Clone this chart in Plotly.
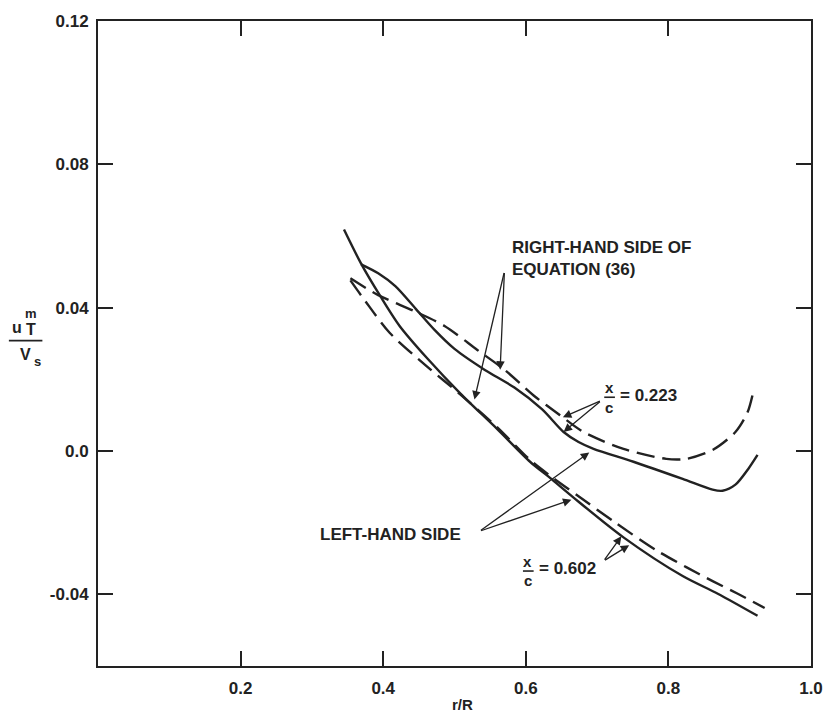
import plotly.graph_objects as go

# r/R stations and u_T^m / V_s values for the two chordwise stations
r_lhs_223 = [0.369, 0.393, 0.417, 0.446, 0.472, 0.500, 0.542, 0.584, 0.623, 0.653,
             0.674, 0.695, 0.751, 0.820, 0.862, 0.876, 0.894, 0.912, 0.925]
u_lhs_223 = [0.0521, 0.0496, 0.0460, 0.0396, 0.0338, 0.0285, 0.0227, 0.0177, 0.0116, 0.0053,
             0.0025, 0.0006, -0.0030, -0.0078, -0.0108, -0.0111, -0.0094, -0.0050, -0.0011]

r_rhs_223 = [0.354, 0.393, 0.444, 0.486, 0.532, 0.570, 0.611, 0.648, 0.681, 0.737,
             0.797, 0.825, 0.862, 0.894, 0.911, 0.920]
u_rhs_223 = [0.0482, 0.0435, 0.0390, 0.0349, 0.0282, 0.0227, 0.0155, 0.0100, 0.0053, 0.0006,
             -0.0022, -0.0022, 0.0003, 0.0053, 0.0108, 0.0174]

r_lhs_602 = [0.345, 0.369, 0.396, 0.423, 0.462, 0.508, 0.560, 0.606, 0.634, 0.667,
             0.737, 0.820, 0.870, 0.925]
u_lhs_602 = [0.0618, 0.0523, 0.0432, 0.0349, 0.0258, 0.0161, 0.0061, -0.0030, -0.0075, -0.0130,
             -0.0241, -0.0349, -0.0399, -0.0460]

r_rhs_602 = [0.354, 0.375, 0.409, 0.462, 0.508, 0.560, 0.606, 0.634, 0.671, 0.727,
             0.783, 0.825, 0.862, 0.898, 0.935]
u_rhs_602 = [0.0476, 0.0418, 0.0330, 0.0235, 0.0158, 0.0066, -0.0025, -0.0069, -0.0122, -0.0202,
             -0.0277, -0.0324, -0.0363, -0.0399, -0.0438]

x_ticks = [0.2, 0.4, 0.6, 0.8, 1.0]
x_tick_text = ["0.2", "0.4", "0.6", "0.8", "1.0"]
y_ticks = [-0.04, 0.0, 0.04, 0.08, 0.12]
y_tick_text = ["-0.04", "0.0", "0.04", "0.08", "0.12"]

FONT = "Liberation Sans, Arial, sans-serif"
INK = "#222222"
DASH = "18px,8px"

fig = go.Figure()

curves = [
    (r_lhs_223, u_lhs_223, "solid", "LHS x/c=0.223"),
    (r_rhs_223, u_rhs_223, DASH, "RHS x/c=0.223"),
    (r_lhs_602, u_lhs_602, "solid", "LHS x/c=0.602"),
    (r_rhs_602, u_rhs_602, DASH, "RHS x/c=0.602"),
]
for xs, ys, dash, name in curves:
    fig.add_trace(go.Scatter(
        x=xs, y=ys, mode="lines", name=name,
        line=dict(color=INK, width=2.4, dash=dash, shape="spline", smoothing=0.8),
        showlegend=False, hoverinfo="skip",
    ))

text_font = dict(family=FONT, size=17, color=INK, weight="bold")
small_font = dict(family=FONT, size=15, color=INK, weight="bold")
title_font = dict(family=FONT, size=16, color=INK, weight="bold")
script_font = dict(family=FONT, size=13, color=INK, weight="bold")

annotations = []


def arrow(tail, head):
    annotations.append(dict(
        x=head[0], y=head[1], ax=tail[0], ay=tail[1],
        xref="x", yref="y", axref="x", ayref="y",
        text="", showarrow=True, arrowhead=2, arrowsize=1.3,
        arrowwidth=1.3, arrowcolor=INK,
    ))


def label(x, y, text, font=text_font, xanchor="left", yanchor="middle",
          align="left", ref=("x", "y"), pad=1):
    annotations.append(dict(
        x=x, y=y, xref=ref[0], yref=ref[1], text=text, showarrow=False,
        font=font, xanchor=xanchor, yanchor=yanchor, align=align, borderpad=pad,
    ))


# right-hand side callout
label(0.578, 0.0536, "RIGHT-HAND SIDE OF<br>EQUATION (36)")
arrow((0.570, 0.0501), (0.564, 0.0227))
arrow((0.570, 0.0501), (0.528, 0.0144))

# left-hand side callout
label(0.309, -0.0233, "LEFT-HAND SIDE")
arrow((0.535, -0.0224), (0.689, -0.0004))
arrow((0.535, -0.0224), (0.664, -0.0136))

# x/c = 0.223 callout
label(0.717, 0.0176, "x", small_font, xanchor="center")
label(0.717, 0.0122, "c", small_font, xanchor="center")
label(0.729, 0.0156, "= 0.223")
arrow((0.706, 0.0141), (0.652, 0.0094))
arrow((0.706, 0.0141), (0.653, 0.0053))

# x/c = 0.602 callout
label(0.603, -0.0308, "x", small_font, xanchor="center")
label(0.603, -0.0360, "c", small_font, xanchor="center")
label(0.616, -0.0327, "= 0.602")
arrow((0.709, -0.0307), (0.734, -0.0238))
arrow((0.709, -0.0307), (0.745, -0.0263))

# y-axis title: u_T^m over V_s (paper coordinates, left of the frame)
P = ("paper", "paper")
label(-0.1045, 0.525, "u", title_font, xanchor="right", ref=P, pad=0)
label(-0.1030, 0.522, "T", title_font, xanchor="left", ref=P, pad=0)
label(-0.1035, 0.546, "m", script_font, xanchor="left", ref=P, pad=0)
label(-0.0930, 0.483, "V", title_font, xanchor="right", ref=P, pad=0)
label(-0.0915, 0.472, "s", script_font, xanchor="left", ref=P, pad=0)

# x-axis title
label(0.511, -0.06, "r/R", dict(family=FONT, size=15, color=INK, weight="bold"),
      xanchor="center", ref=P)

shapes = [
    # fraction bars
    dict(type="line", xref="x", yref="y", x0=0.710, x1=0.725, y0=0.0150, y1=0.0150,
         line=dict(color=INK, width=1.6)),
    dict(type="line", xref="x", yref="y", x0=0.596, x1=0.611, y0=-0.0335, y1=-0.0335,
         line=dict(color=INK, width=1.6)),
    dict(type="line", xref="paper", yref="paper", x0=-0.125, x1=-0.078, y0=0.5046, y1=0.5046,
         line=dict(color=INK, width=1.8)),
]

axis_common = dict(
    showline=True, linecolor=INK, linewidth=2, mirror="ticks",
    ticks="inside", ticklen=15, tickwidth=1.6, tickcolor=INK,
    showgrid=False, zeroline=False,
    tickfont=dict(family=FONT, size=17, color=INK, weight="bold"),
)

fig.update_layout(
    width=835, height=720,
    margin=dict(l=98, r=19, t=16, b=54),
    paper_bgcolor="white", plot_bgcolor="white",
    xaxis=dict(range=[0, 1.0], tickvals=x_ticks, ticktext=x_tick_text,
               ticklabelstandoff=6, **axis_common),
    yaxis=dict(range=[-0.06, 0.12], tickvals=y_ticks, ticktext=y_tick_text,
               ticklabelstandoff=4, **axis_common),
    annotations=annotations,
    shapes=shapes,
)

fig.write_html("out.html")
